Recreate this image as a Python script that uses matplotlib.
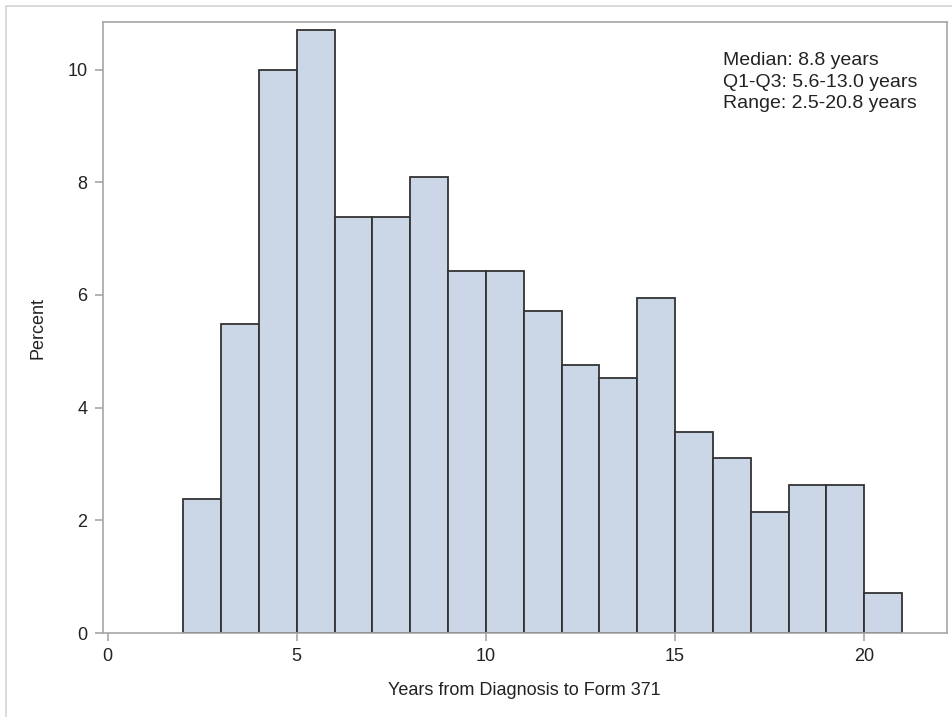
import numpy as np
import matplotlib.pyplot as plt
from matplotlib.patches import Rectangle

# histogram bins (years) and percent per bin
bin_edges = np.arange(2, 22, 1)
percent = [2.38, 5.48, 10.00, 10.71, 7.38, 7.38, 8.10, 6.43, 6.43, 5.71,
           4.76, 4.52, 5.95, 3.57, 3.10, 2.14, 2.62, 2.62, 0.71]
x_ticks = [0, 5, 10, 15, 20]
y_ticks = [0, 2, 4, 6, 8, 10]
stats_lines = ["Median: 8.8 years", "Q1-Q3: 5.6-13.0 years", "Range: 2.5-20.8 years"]

plt.rcParams['font.family'] = ['Liberation Sans', 'DejaVu Sans']

W, H = 953, 717
fig = plt.figure(figsize=(W / 100, H / 100), dpi=100)

# light outer border of the graph area
fig.patches.append(Rectangle((6 / W, -0.05), 1.1, 1 - 6 / H + 0.05, transform=fig.transFigure,
                             fill=False, edgecolor='#d4d4d4', linewidth=1.2))

ax = fig.add_axes([102.7 / W, 1 - 633 / H, (946.7 - 102.7) / W, (633 - 22.3) / H])

ax.bar(bin_edges[:-1], percent, width=1.0, align='edge',
       color='#cbd6e6', edgecolor='#333333', linewidth=1.3)

ax.set_xlim(-0.13, 22.18)
ax.set_ylim(0, 10.84)
ax.set_xticks(x_ticks)
ax.set_yticks(y_ticks)

for s in ax.spines.values():
    s.set_color('#a6a6a6')
    s.set_linewidth(1.2)
ax.tick_params(axis='both', colors='#a6a6a6', length=6, width=1.2, pad=5,
               labelsize=13, labelcolor='#222222')

ax.set_xlabel("Years from Diagnosis to Form 371", fontsize=13, color='#222222', labelpad=12)
ax.set_ylabel("Percent", fontsize=13, color='#222222', labelpad=15)

ax.text(723 / W, 1 - 52 / H, "\n".join(stats_lines), transform=fig.transFigure,
        ha='left', va='top', fontsize=14, color='#222222', linespacing=1.36)

fig.savefig("out.png", dpi=100)
